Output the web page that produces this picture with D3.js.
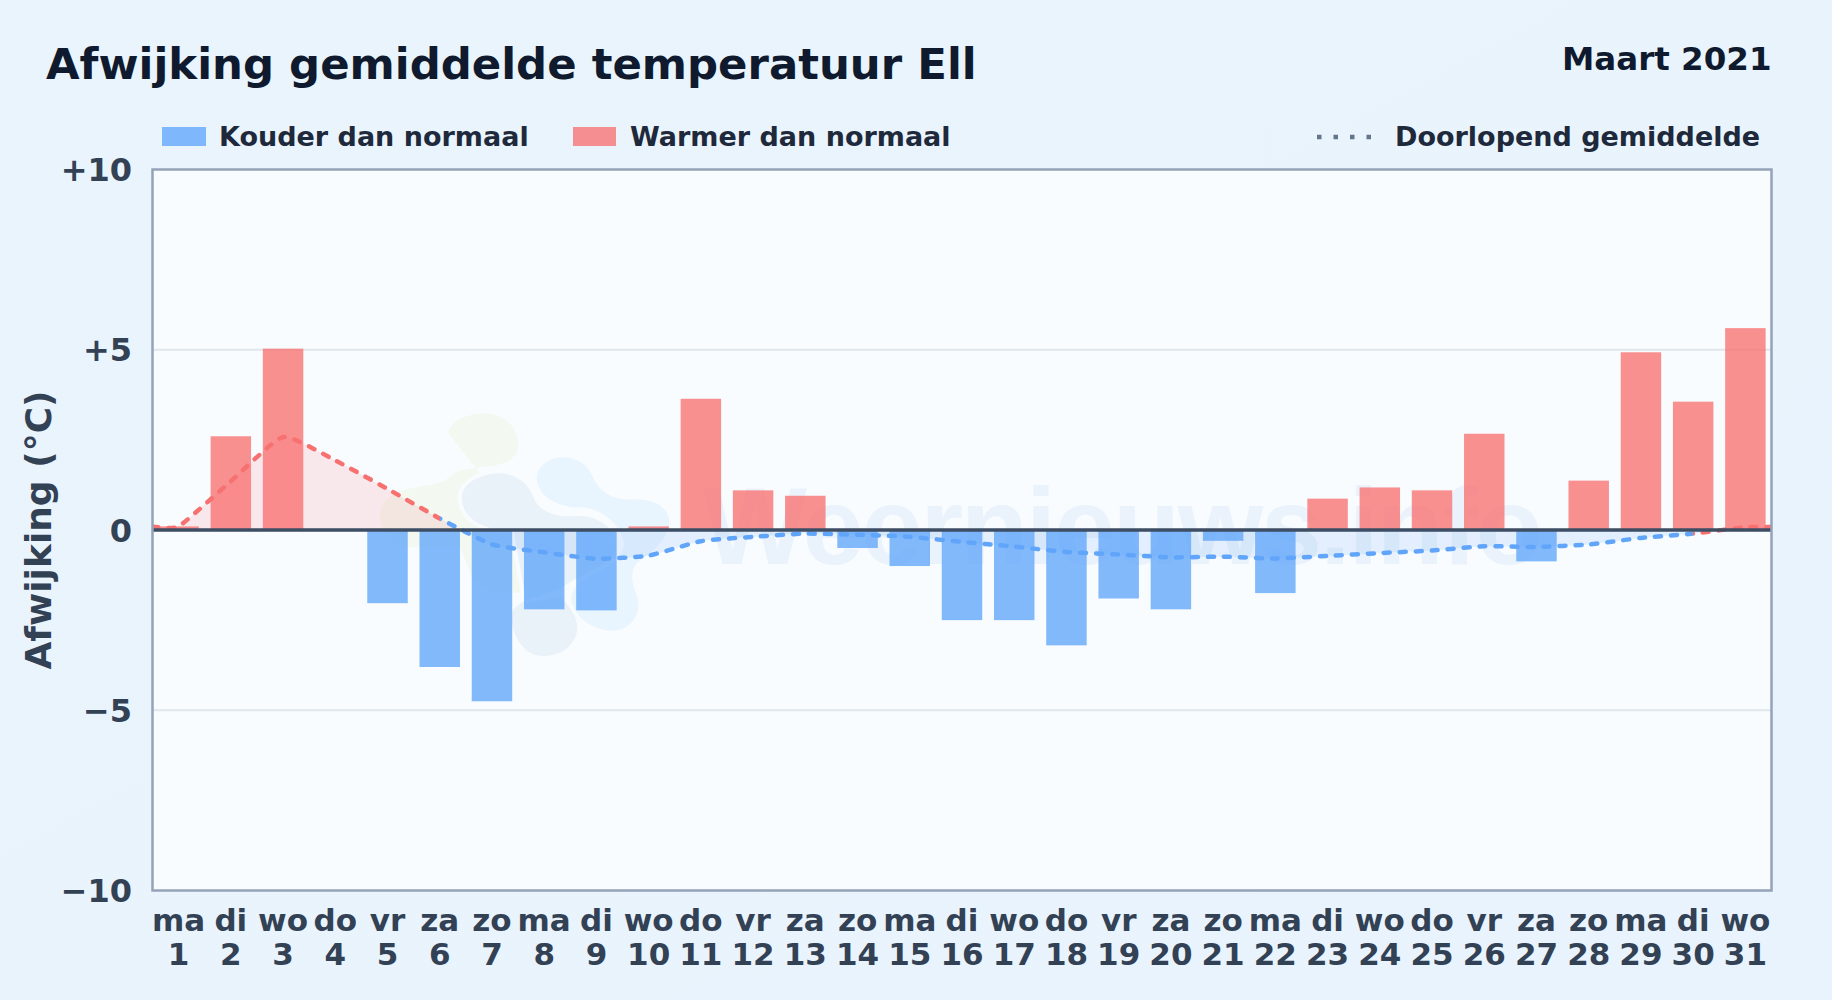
<!DOCTYPE html>
<html><head><meta charset="utf-8">
<script src="https://cdn.jsdelivr.net/npm/d3@7/dist/d3.min.js"></script>
<style>html,body{margin:0;padding:0;width:1832px;height:1000px;overflow:hidden;background:#e8f3fc}
text{font-family:"DejaVu Sans";font-weight:700}</style></head><body>
<svg id="c" width="1832" height="1000"></svg>
<script>
const title="Afwijking gemiddelde temperatuur Ell";
const period="Maart 2021";
const yTitle="Afwijking (°C)";
const legendCold="Kouder dan normaal";
const legendWarm="Warmer dan normaal";
const legendLine="Doorlopend gemiddelde";
const watermark="Weernieuws.info";
const days=d3.range(1,32);
const weekdays=["ma","di","wo","do","vr","za","zo","ma","di","wo","do","vr","za","zo","ma","di","wo","do","vr","za","zo","ma","di","wo","do","vr","za","zo","ma","di","wo"];
const deviations=[0.1,2.6,5.03,0,-2.03,-3.8,-4.75,-2.2,-2.23,0.1,3.64,1.1,0.95,-0.5,-1.0,-2.5,-2.5,-3.2,-1.9,-2.2,-0.3,-1.75,0.87,1.18,1.1,2.67,-0.87,1.37,4.93,3.56,5.6];
const runningMean=[0.1,1.35,2.58,1.93,1.14,0.32,-0.4,-0.62,-0.8,-0.71,-0.31,-0.19,-0.1,-0.13,-0.19,-0.33,-0.46,-0.61,-0.68,-0.76,-0.74,-0.79,-0.72,-0.64,-0.57,-0.45,-0.47,-0.4,-0.22,-0.1,0.08];
const yTicks=[10,5,0,-5,-10];

const L=152.5,R=1771.5,T=169.5,B=890.5;
const warmC="#f87171",coldC="#60a5fa";
const svg=d3.select("#c");
const defs=svg.append("defs");
const g=defs.append("linearGradient").attr("id","bg").attr("x1",0).attr("y1",0).attr("x2",1).attr("y2",1);
g.append("stop").attr("offset",0).attr("stop-color","#e9f4fc");
g.append("stop").attr("offset",1).attr("stop-color","#e8f3fd");
defs.append("clipPath").attr("id","clip").append("rect").attr("x",L).attr("y",T).attr("width",R-L).attr("height",B-T);
const x=d3.scaleBand().domain(days).range([L,R]).paddingInner(0.225).paddingOuter(0.1125);
const y=d3.scaleLinear().domain([-10,10]).range([B,T]);
const cx=d=>x(d)+x.bandwidth()/2;
svg.append("rect").attr("width",1832).attr("height",1000).attr("fill","url(#bg)");
svg.append("rect").attr("x",L).attr("y",T).attr("width",R-L).attr("height",B-T).attr("fill","#f8fcff");

// watermark
const wm=svg.append("g").attr("clip-path","url(#clip)");
const blobs=wm.append("g").attr("transform","translate(360,390) scale(0.3333)");
blobs.append("path").attr("fill","#f3f9f1").attr("d","M265 130C270 90 330 70 375 70C430 72 475 110 475 165C472 205 440 220 400 228C350 235 300 230 265 265C240 285 190 285 130 300C80 315 55 350 60 385C65 430 100 460 145 472L300 472L340 570L400 605L490 610L500 500L400 300Z");
blobs.append("path").attr("fill","#e9f1f9").attr("stroke","#f8fcff").attr("stroke-width",24).attr("paint-order","stroke").attr("d","M305 320C310 275 370 250 420 250C470 252 505 280 520 320C535 365 590 385 650 378C710 375 760 410 770 460C770 510 700 540 640 570C600 600 550 610 500 630C470 645 450 660 455 690C460 750 500 798 548 798C610 798 652 760 652 710C650 670 620 640 600 620L500 640L460 420C400 425 305 400 305 320Z");
blobs.append("path").attr("fill","#e9f5fe").attr("stroke","#f8fcff").attr("stroke-width",20).attr("paint-order","stroke").attr("d","M530 260C535 225 570 202 612 202C650 202 685 225 700 265C720 310 770 335 830 328C880 328 925 350 928 395C925 450 870 490 830 520C810 545 815 580 830 615C850 670 810 722 760 722C710 722 660 695 640 650C620 610 650 580 690 560C760 530 800 490 790 450C770 390 720 355 660 352C600 355 530 320 530 260Z");
wm.append("text").attr("x",703).attr("y",564).attr("font-size",110).attr("fill","#eaf3fb").style("font-family","Liberation Sans").style("font-weight","700").attr("textLength",840).text(watermark);

// grid
svg.append("g").selectAll("line").data([5,-5]).join("line").attr("x1",L).attr("x2",R).attr("y1",d=>y(d)).attr("y2",d=>y(d)).attr("stroke","#dfe6ec").attr("stroke-width",2);

// running mean: the line runs flat out to both plot edges
const pts=[{px:L,v:runningMean[0]},...days.map((d,i)=>({px:cx(d),v:runningMean[i]})),{px:R,v:runningMean[runningMean.length-1]}];
const curve=d3.curveCardinal.tension(0.5);
const area=d3.area().x(p=>p.px).y0(y(0)).y1(p=>y(p.v)).curve(curve);
const line=d3.line().x(p=>p.px).y(p=>y(p.v)).curve(curve);
defs.append("clipPath").attr("id","above").append("rect").attr("x",L).attr("y",T).attr("width",R-L).attr("height",y(0)-T);
defs.append("clipPath").attr("id","below").append("rect").attr("x",L).attr("y",y(0)).attr("width",R-L).attr("height",B-y(0));
svg.append("path").attr("clip-path","url(#above)").attr("d",area(pts)).attr("fill",warmC).attr("opacity",0.14);
svg.append("path").attr("clip-path","url(#below)").attr("d",area(pts)).attr("fill",coldC).attr("opacity",0.14);

// bars
svg.append("g").selectAll("rect").data(days).join("rect")
 .attr("x",d=>x(d)).attr("width",x.bandwidth())
 .attr("y",(d,i)=>y(Math.max(deviations[i],0))).attr("height",(d,i)=>Math.abs(y(deviations[i])-y(0)))
 .attr("fill",(d,i)=>deviations[i]>=0?warmC:coldC).attr("opacity",0.78).attr("clip-path","url(#clip)");

// line colour: each segment takes the sign of its end point (hard stops along x)
const lg2=defs.append("linearGradient").attr("id","lineCol").attr("gradientUnits","userSpaceOnUse").attr("x1",L).attr("y1",0).attr("x2",R).attr("y2",0);
pts.forEach((p,i)=>{ if(i===0) return;
  const col=p.v>=0?warmC:coldC;
  lg2.append("stop").attr("offset",(pts[i-1].px-L)/(R-L)).attr("stop-color",col);
  lg2.append("stop").attr("offset",(p.px-L)/(R-L)).attr("stop-color",col);
});
svg.append("path").attr("clip-path","url(#clip)").attr("d",line(pts)).attr("fill","none").attr("stroke","url(#lineCol)").attr("stroke-width",4.5).attr("stroke-dasharray","6 10").attr("stroke-linecap","round");

// zero line + frame
svg.append("line").attr("x1",L).attr("x2",R).attr("y1",y(0)).attr("y2",y(0)).attr("stroke","#3d4d63").attr("stroke-width",3.5);
svg.append("rect").attr("x",L).attr("y",T).attr("width",R-L).attr("height",B-T).attr("fill","none").attr("stroke","#94a3b8").attr("stroke-width",2.5);

// y axis labels
svg.append("g").selectAll("text").data(yTicks).join("text").attr("x",132).attr("y",d=>y(d)).attr("dy","0.36em").attr("text-anchor","end").attr("font-size",32).attr("fill","#334155")
 .text(d=>d>0?"+"+d:d<0?"\u2212"+Math.abs(d):"0");
// x axis labels
const xl=svg.append("g").selectAll("g").data(days).join("g");
xl.append("text").attr("x",d=>cx(d)).attr("y",931).attr("text-anchor","middle").attr("font-size",31).attr("fill","#334155").text((d,i)=>weekdays[i]);
xl.append("text").attr("x",d=>cx(d)).attr("y",965).attr("text-anchor","middle").attr("font-size",31).attr("fill","#334155").text(d=>d);

svg.append("text").attr("transform","translate(38,530) rotate(-90)").attr("dy","0.36em").attr("text-anchor","middle").attr("font-size",36).attr("fill","#334155").text(yTitle);

// titles
svg.append("text").attr("x",46).attr("y",79).attr("font-size",43.4).attr("fill","#0f1a2e").text(title);
svg.append("text").attr("x",1771.5).attr("y",70).attr("text-anchor","end").attr("font-size",32.5).attr("fill","#0f1a2e").text(period);

// legend
const lg=svg.append("g");
lg.append("rect").attr("x",162).attr("y",127).attr("width",44).attr("height",19).attr("fill",coldC).attr("opacity",0.78);
lg.append("text").attr("x",219).attr("y",146).attr("font-size",27).attr("fill","#1e293b").text(legendCold);
lg.append("rect").attr("x",573).attr("y",127).attr("width",43).attr("height",19).attr("fill",warmC).attr("opacity",0.78);
lg.append("text").attr("x",630).attr("y",146).attr("font-size",27).attr("fill","#1e293b").text(legendWarm);
lg.append("line").attr("x1",1317).attr("x2",1375).attr("y1",137).attr("y2",137).attr("stroke","#64748b").attr("stroke-width",4.5).attr("stroke-dasharray","4.5 12");
lg.append("text").attr("x",1395).attr("y",146).attr("font-size",27).attr("fill","#1e293b").text(legendLine);
</script></body></html>
